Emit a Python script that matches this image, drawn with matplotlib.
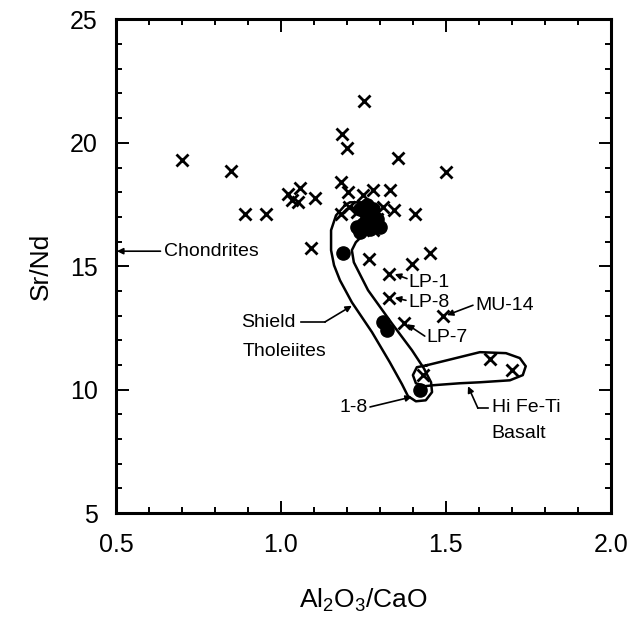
import matplotlib
matplotlib.use("Agg")
import matplotlib.pyplot as plt
from matplotlib.ticker import MultipleLocator

plt.rcParams['font.family'] = ['Liberation Sans', 'DejaVu Sans']
plt.rcParams['mathtext.default'] = 'regular'

# basalt analyses (crosses)
x_cross = [0.70, 0.85, 0.89, 0.955, 1.022, 1.057, 1.035, 1.052, 1.104, 1.09,
           1.252, 1.186, 1.201, 1.356, 1.50, 1.181, 1.204, 1.25, 1.28, 1.33,
           1.181, 1.207, 1.31, 1.342, 1.406, 1.28, 1.268, 1.396, 1.452,
           1.328, 1.328, 1.373, 1.49, 1.633, 1.699, 1.431, 1.23, 1.29]
y_cross = [19.3, 18.85, 17.13, 17.13, 17.94, 18.15, 17.67, 17.60, 17.76, 15.75,
           21.68, 20.37, 19.77, 19.40, 18.82, 18.41, 18.01, 17.87, 18.08, 18.08,
           17.13, 17.40, 17.40, 17.27, 17.13, 16.46, 15.31, 15.08, 15.54,
           14.70, 13.73, 12.72, 13.00, 11.26, 10.79, 10.59, 17.2, 16.93]

# shield tholeiites (filled dots)
x_dot = [1.188, 1.31, 1.32, 1.42, 1.24, 1.26, 1.25, 1.27, 1.29, 1.23,
         1.28, 1.30, 1.26, 1.24]
y_dot = [15.52, 12.75, 12.42, 10.0, 17.3, 17.0, 16.7, 16.5, 16.9, 16.6,
         17.3, 16.6, 17.5, 16.4]

# field outlines
shield_x = [1.194, 1.167, 1.152, 1.152, 1.161, 1.179, 1.215, 1.276, 1.330,
            1.367, 1.385, 1.409, 1.439, 1.458, 1.455, 1.433, 1.397, 1.336,
            1.264, 1.221, 1.215, 1.227, 1.245, 1.276, 1.294, 1.282, 1.245,
            1.209, 1.194]
shield_y = [17.47, 17.06, 16.46, 15.65, 15.04, 14.43, 13.54, 12.33, 11.11,
            10.22, 9.74, 9.53, 9.57, 9.90, 10.30, 10.87, 11.60, 12.69,
            14.03, 15.16, 15.65, 15.97, 16.21, 16.54, 16.94, 17.35, 17.59,
            17.59, 17.47]
hifeti_x = [1.442, 1.503, 1.603, 1.682, 1.724, 1.742, 1.733, 1.694, 1.603,
            1.542, 1.461, 1.436, 1.409, 1.400, 1.412, 1.442]
hifeti_y = [10.99, 11.19, 11.52, 11.48, 11.28, 10.95, 10.59, 10.38, 10.30,
            10.26, 10.18, 10.14, 10.26, 10.59, 10.91, 10.99]

fig = plt.figure(figsize=(6.37, 6.25), dpi=100)
ax = fig.add_axes([0.182, 0.179, 0.777, 0.790])

ax.plot(shield_x, shield_y, color='black', lw=1.8, solid_joinstyle='round')
ax.plot(hifeti_x, hifeti_y, color='black', lw=1.8, solid_joinstyle='round')
ax.plot(x_cross, y_cross, 'x', color='black', ms=8, mew=2.0, ls='none')
ax.plot(x_dot, y_dot, 'o', color='black', ms=9.5, ls='none')

ax.set_xlim(0.5, 2.0)
ax.set_ylim(5, 25)
ax.xaxis.set_major_locator(MultipleLocator(0.5))
ax.xaxis.set_minor_locator(MultipleLocator(0.1))
ax.yaxis.set_major_locator(MultipleLocator(5))
ax.yaxis.set_minor_locator(MultipleLocator(1))
ax.xaxis.set_major_formatter(plt.FormatStrFormatter('%.1f'))
ax.tick_params(which='both', direction='in', top=True, right=True, width=1.4,
               labelsize=18)
ax.tick_params(which='major', length=9)
ax.tick_params(which='minor', length=4.5)
ax.tick_params(axis='x', pad=14)
ax.tick_params(axis='y', pad=13)
for s in ax.spines.values():
    s.set_linewidth(2.2)

ax.set_xlabel('Al$_2$O$_3$/CaO', fontsize=19, labelpad=22)
ax.set_ylabel('Sr/Nd', fontsize=19, labelpad=12)

ann = dict(fontsize=14, va='center', ha='left')
arw = dict(arrowstyle='-|>', color='black', lw=1.2, mutation_scale=9,
           shrinkA=0, shrinkB=0)

ax.text(0.645, 15.61, 'Chondrites', **ann)
ax.annotate('', xy=(0.503, 15.61), xytext=(0.635, 15.61), arrowprops=arw)

ax.text(0.879, 12.73, 'Shield', **ann)
ax.text(0.885, 11.56, 'Tholeiites', **ann)
ax.plot([1.062, 1.133], [12.74, 12.74], color='black', lw=1.2)
ax.annotate('', xy=(1.215, 13.40), xytext=(1.133, 12.74), arrowprops=arw)

ax.text(1.385, 14.36, 'LP-1', **ann)
ax.annotate('', xy=(1.345, 14.68), xytext=(1.382, 14.50), arrowprops=arw)
ax.text(1.385, 13.54, 'LP-8', **ann)
ax.annotate('', xy=(1.345, 13.72), xytext=(1.379, 13.62), arrowprops=arw)
ax.text(1.441, 12.11, 'LP-7', **ann)
ax.annotate('', xy=(1.382, 12.65), xytext=(1.436, 12.17), arrowprops=arw)
ax.text(1.588, 13.42, 'MU-14', **ann)
ax.annotate('', xy=(1.503, 13.02), xytext=(1.582, 13.42), arrowprops=arw)

ax.text(1.179, 9.27, '1-8', **ann)
ax.annotate('', xy=(1.397, 9.71), xytext=(1.27, 9.30), arrowprops=arw)

ax.text(1.639, 9.29, 'Hi Fe-Ti', **ann)
ax.text(1.639, 8.24, 'Basalt', **ann)
ax.plot([1.597, 1.627], [9.25, 9.25], color='black', lw=1.2)
ax.annotate('', xy=(1.567, 10.14), xytext=(1.597, 9.25), arrowprops=arw)

fig.savefig('out.png', dpi=100)
